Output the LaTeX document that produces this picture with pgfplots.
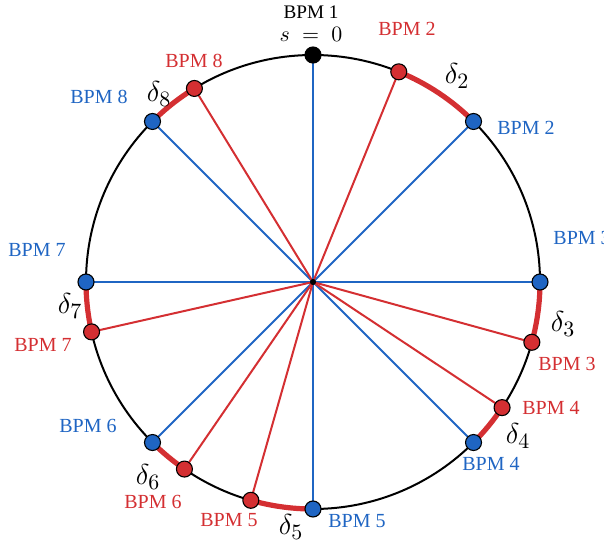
\documentclass[border=0pt]{standalone}
\usepackage{fontspec}
\setmainfont{Liberation Serif}
\usepackage{pgfplots}
\pgfplotsset{compat=1.18}
\usepackage{pgfplotstable}

\definecolor{bpmblue}{HTML}{1F65C3}
\definecolor{bpmred}{HTML}{D42F32}

% nominal BPM positions, clockwise angle from s = 0 (degrees)
\pgfplotstableread{
bpm angle
2 45
3 90
4 135
5 180
6 225
7 270
8 315
}\nominal

% displaced BPM positions (degrees)
\pgfplotstableread{
bpm angle
2 22.2
3 105.4
4 123.6
5 195.9
6 214.5
7 257.3
8 328.5
}\displaced

\pgfplotstableread{
bpm angle
1 0
}\origin

\newcommand{\dl}[1]{{\fontsize{15}{17}\selectfont$\delta_{#1}$}}

\begin{document}
\begin{tikzpicture}
\path[use as bounding box, clip] (0,0) rectangle (302pt,273pt);
\begin{axis}[
  at={(0,0)}, anchor=south west,
  scale only axis, width=302pt, height=273pt,
  xmin=-313, xmax=291, ymin=-264, ymax=282,
  hide axis, clip=false,
  every node/.style={font=\fontsize{8.5}{10}\selectfont},
]
% ring
\draw[black, line width=1pt] (axis cs:0,0) circle[radius=113.5pt];

% spokes
\addplot[bpmblue, line width=1pt, no markers,
  quiver={u={227*sin(\thisrow{angle})}, v={227*cos(\thisrow{angle})}}]
  table[x expr=0, y expr=0] {\nominal};
\addplot[bpmblue, line width=1pt, no markers,
  quiver={u={227*sin(\thisrow{angle})}, v={227*cos(\thisrow{angle})}}]
  table[x expr=0, y expr=0] {\origin};
\addplot[bpmred, line width=1pt, no markers,
  quiver={u={227*sin(\thisrow{angle})}, v={227*cos(\thisrow{angle})}}]
  table[x expr=0, y expr=0] {\displaced};

% offsets delta_i along the ring
\draw[bpmred, line width=2.6pt] (axis cs:{227*sin(22.2)},{227*cos(22.2)}) arc[start angle=67.8, end angle=45, radius=113.5pt];
\draw[bpmred, line width=2.6pt] (axis cs:{227*sin(90)},{227*cos(90)}) arc[start angle=0, end angle=-15.4, radius=113.5pt];
\draw[bpmred, line width=2.6pt] (axis cs:{227*sin(123.6)},{227*cos(123.6)}) arc[start angle=-33.6, end angle=-45, radius=113.5pt];
\draw[bpmred, line width=2.6pt] (axis cs:{227*sin(180)},{227*cos(180)}) arc[start angle=-90, end angle=-105.9, radius=113.5pt];
\draw[bpmred, line width=2.6pt] (axis cs:{227*sin(214.5)},{227*cos(214.5)}) arc[start angle=-124.5, end angle=-135, radius=113.5pt];
\draw[bpmred, line width=2.6pt] (axis cs:{227*sin(257.3)},{227*cos(257.3)}) arc[start angle=-167.3, end angle=-180, radius=113.5pt];
\draw[bpmred, line width=2.6pt] (axis cs:{227*sin(315)},{227*cos(315)}) arc[start angle=135, end angle=121.5, radius=113.5pt];

% BPMs
\addplot[only marks, mark=*, mark size=4pt,
  mark options={fill=bpmblue, draw=black, line width=0.55pt}]
  table[x expr={227*sin(\thisrow{angle})}, y expr={227*cos(\thisrow{angle})}] {\nominal};
\addplot[only marks, mark=*, mark size=4pt,
  mark options={fill=bpmred, draw=black, line width=0.55pt}]
  table[x expr={227*sin(\thisrow{angle})}, y expr={227*cos(\thisrow{angle})}] {\displaced};
\addplot[only marks, mark=*, mark size=4pt,
  mark options={fill=black, draw=black, line width=0.55pt}]
  table[x expr={227*sin(\thisrow{angle})}, y expr={227*cos(\thisrow{angle})}] {\origin};
\addplot[only marks, mark=*, mark size=1.3pt, black] coordinates {(0,0)};

% labels
\node[font=\fontsize{9.6}{11}\selectfont] at (axis cs:-2,270) {BPM 1};
\node at (axis cs:-2,248) {\fontsize{11}{13}\selectfont$s\;=\;0$};
\node[bpmred] at (axis cs:94,253) {BPM 2};
\node[bpmblue] at (axis cs:213,154) {BPM 2};
\node[bpmblue, anchor=west, inner sep=0pt] at (axis cs:240,44) {BPM 3};
\node[bpmred] at (axis cs:254,-82) {BPM 3};
\node[bpmred] at (axis cs:238,-126) {BPM 4};
\node[bpmblue] at (axis cs:178,-182) {BPM 4};
\node[bpmblue] at (axis cs:44,-239) {BPM 5};
\node[bpmred] at (axis cs:-84,-238) {BPM 5};
\node[bpmred] at (axis cs:-160,-220) {BPM 6};
\node[bpmblue] at (axis cs:-225,-144) {BPM 6};
\node[bpmred] at (axis cs:-270,-63) {BPM 7};
\node[bpmblue] at (axis cs:-276,32) {BPM 7};
\node[bpmblue] at (axis cs:-214,185) {BPM 8};
\node[bpmred] at (axis cs:-119,221) {BPM 8};

\node at (axis cs:144,206) {\dl{2}};
\node at (axis cs:250,-42) {\dl{3}};
\node at (axis cs:205,-154) {\dl{4}};
\node at (axis cs:-22,-245) {\dl{5}};
\node at (axis cs:-165,-195) {\dl{6}};
\node at (axis cs:-243,-24) {\dl{7}};
\node at (axis cs:-154,188) {\dl{8}};
\end{axis}
\end{tikzpicture}
\end{document}
